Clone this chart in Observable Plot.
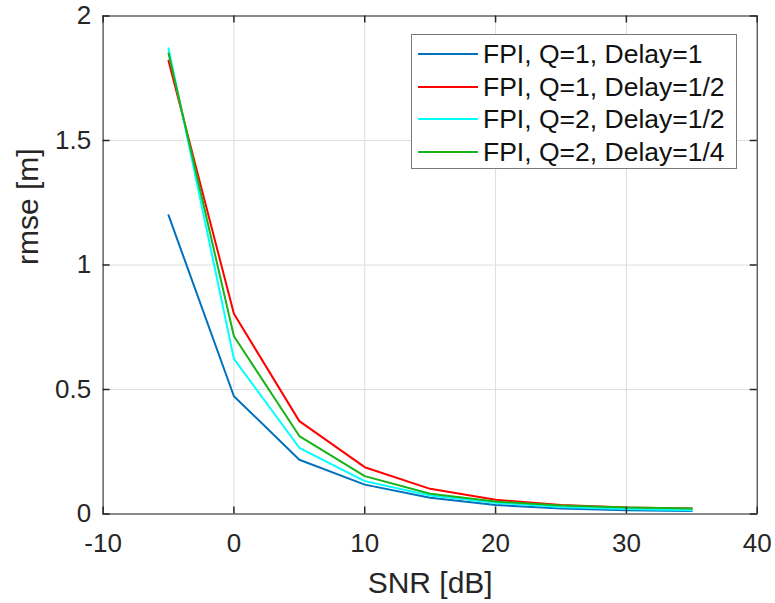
<!DOCTYPE html>
<html>
<head>
<meta charset="utf-8">
<script src="https://cdn.jsdelivr.net/npm/d3@7"></script>
<script src="https://cdn.jsdelivr.net/npm/@observablehq/plot@0.6"></script>
<style>
  html, body { margin: 0; padding: 0; background: #fff; }
  #wrap { position: relative; width: 775px; height: 603px; font-family: "Liberation Sans", Arial, Helvetica, sans-serif; }
  #legend { position: absolute; left: 411px; top: 34px; width: 326px; height: 135px; box-sizing: border-box;
            border: 1px solid #7a7a7a; background: #fff; }
  .row { position: absolute; left: 0; height: 30px; display: flex; align-items: center; }
  .sw { position: absolute; left: 6px; width: 60px; height: 2px; }
  .lb { position: absolute; left: 71px; font-size: 26.5px; color: #111; white-space: nowrap; line-height: 30px; }
</style>
</head>
<body>
<div id="wrap"></div>
<script>
// ---- data ----
const snr = [-5, 0, 5, 10, 15, 20, 25, 30, 35];
const seriesNames = ["FPI, Q=1, Delay=1", "FPI, Q=1, Delay=1/2", "FPI, Q=2, Delay=1/2", "FPI, Q=2, Delay=1/4"];
const seriesColors = ["#0072BD", "#FF0000", "#00FFFF", "#19B319"];
const rmseQ1D1  = [1.20, 0.473, 0.218, 0.118, 0.065, 0.036, 0.022, 0.015, 0.012];
const rmseQ1D12 = [1.82, 0.804, 0.373, 0.188, 0.101, 0.057, 0.036, 0.026, 0.022];
const rmseQ2D12 = [1.87, 0.623, 0.266, 0.132, 0.074, 0.045, 0.028, 0.020, 0.015];
const rmseQ2D14 = [1.85, 0.714, 0.313, 0.152, 0.081, 0.050, 0.034, 0.026, 0.022];
const xTicks = [-10, 0, 10, 20, 30, 40];
const yTicks = [0, 0.5, 1, 1.5, 2];
const xTickLabels = ["-10", "0", "10", "20", "30", "40"];
const yTickLabels = ["0", "0.5", "1", "1.5", "2"];

const allSeries = [rmseQ1D1, rmseQ1D12, rmseQ2D12, rmseQ2D14];
const rows = [];
allSeries.forEach((vals, i) => vals.forEach((v, j) => rows.push({snr: snr[j], rmse: v, s: seriesNames[i]})));

const W = 775, H = 603;
const mL = 102.6, mR = 18.3, mT = 15.5, mB = 89.5;
const innerW = W - mL - mR, innerH = H - mT - mB;
const axisColor = "#262626";
const tickLen = 7;

const chart = Plot.plot({
  width: W, height: H,
  marginLeft: mL, marginRight: mR, marginTop: mT, marginBottom: mB,
  style: { fontFamily: '"Liberation Sans", Arial, Helvetica, sans-serif', background: "#fff", color: axisColor },
  x: { domain: [-10, 40], ticks: xTicks },
  y: { domain: [0, 2], ticks: yTicks },
  color: { domain: seriesNames, range: seriesColors },
  marks: [
    Plot.gridX(xTicks, { stroke: "#dedede", strokeOpacity: 1 }),
    Plot.gridY(yTicks, { stroke: "#dedede", strokeOpacity: 1 }),
    Plot.line(rows, { x: "snr", y: "rmse", z: "s", stroke: "s", strokeWidth: 2 }),
    // inward ticks on all four sides
    Plot.tickX(xTicks, { x: d => d, insetTop: innerH - tickLen, stroke: axisColor, strokeWidth: 1.5 }),
    Plot.tickX(xTicks, { x: d => d, insetBottom: innerH - tickLen, stroke: axisColor, strokeWidth: 1.5 }),
    Plot.tickY(yTicks, { y: d => d, insetRight: innerW - tickLen, stroke: axisColor, strokeWidth: 1.5 }),
    Plot.tickY(yTicks, { y: d => d, insetLeft: innerW - tickLen, stroke: axisColor, strokeWidth: 1.5 }),
    Plot.frame({ stroke: axisColor, strokeWidth: 1 }),
    Plot.axisX(xTicks, { tickSize: 0, tickPadding: 20, fontSize: 26, label: null, fill: axisColor,
                         tickFormat: d => xTickLabels[xTicks.indexOf(d)] }),
    Plot.axisY(yTicks, { tickSize: 0, tickPadding: 12, fontSize: 26, label: null, fill: axisColor,
                         tickFormat: d => yTickLabels[yTicks.indexOf(d)] }),
    Plot.text(["SNR [dB]"], { text: d => d, frameAnchor: "bottom", lineAnchor: "bottom", dy: 78.5, fontSize: 30, fill: axisColor }),
    Plot.text(["rmse [m]"], { text: d => d, frameAnchor: "left", lineAnchor: "bottom", rotate: -90, dx: -65.6, fontSize: 30, fill: axisColor })
  ]
});

const wrap = document.getElementById("wrap");
wrap.appendChild(chart);

// legend overlay (inside plot area, like MATLAB's northeast legend)
const legend = document.createElement("div");
legend.id = "legend";
const rowCenters = [19, 51.7, 84.4, 116.8];
seriesNames.forEach((name, i) => {
  const r = document.createElement("div");
  r.className = "row";
  r.style.top = (rowCenters[i] - 15) + "px";
  const sw = document.createElement("div");
  sw.className = "sw";
  sw.style.background = seriesColors[i];
  sw.style.top = "14px";
  const lb = document.createElement("div");
  lb.className = "lb";
  lb.textContent = name;
  r.appendChild(sw);
  r.appendChild(lb);
  legend.appendChild(r);
});
wrap.appendChild(legend);
</script>
</body>
</html>
